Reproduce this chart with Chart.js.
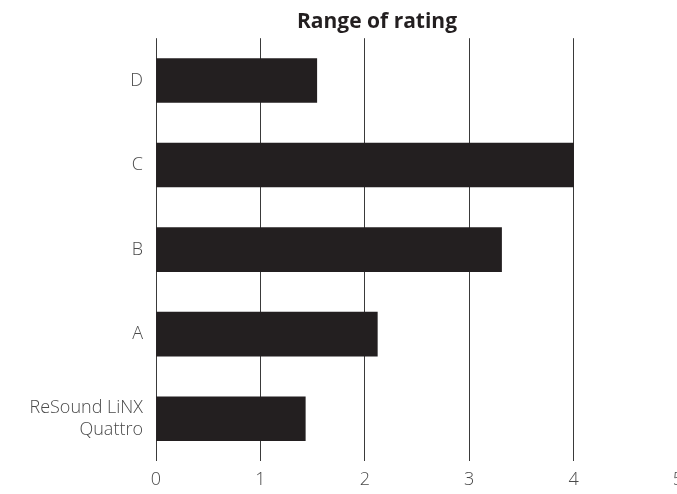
<!DOCTYPE html>
<html>
<head>
<meta charset="utf-8">
<script src="https://cdn.jsdelivr.net/npm/chart.js@4"></script>
<style>
  html, body { margin: 0; padding: 0; overflow: hidden; background: #fff; }
</style>
</head>
<body>
<canvas id="ratingChart" width="754" height="494"></canvas>
<script>
// data
const categories = ['D', 'C', 'B', 'A', ['ReSound LiNX', 'Quattro']];
const ratings = [1.54, 4.0, 3.31, 2.12, 1.43];
const xTicks = [0, 1, 2, 3, 4, 5];

const ratingData = {
  labels: categories,
  datasets: [{
    label: 'Range of rating',
    data: ratings,
    backgroundColor: '#231f20',
    barThickness: 44,
  }]
};

const labelFont = { family: 'Open Sans', size: 18, weight: '300', lineHeight: 1.25 };

// config chart
const ratingConfig = {
  type: 'bar',
  data: ratingData,
  options: {
    indexAxis: 'y',
    responsive: false,
    animation: false,
    plugins: {
      legend: { display: false },
      tooltip: { enabled: false },
      title: {
        display: true,
        text: 'Range of rating',
        color: '#231f20',
        font: { family: 'Open Sans', size: 21, weight: 'bold' },
        padding: { top: 9, bottom: 4 }
      }
    },
    scales: {
      x: {
        min: 0,
        max: 5,
        afterBuildTicks: (s) => { s.ticks = xTicks.map(v => ({ value: v })); },
        afterFit: (s) => { s.height = 33; },
        grid: { color: '#3a3a3a', lineWidth: 1, drawTicks: false },
        border: { display: false },
        ticks: { color: '#4a4a4a', padding: 8, font: labelFont }
      },
      y: {
        afterFit: (s) => { s.width = 156; },
        grid: { display: false, drawTicks: false },
        border: { display: false },
        ticks: { color: '#4a4a4a', padding: 13, font: labelFont }
      },
      // empty right-hand spacer so the plot ends at x = 5 near the window edge
      spacer: {
        type: 'linear',
        axis: 'y',
        position: 'right',
        afterFit: (s) => { s.width = 76; },
        grid: { display: false },
        border: { display: false },
        ticks: { display: false }
      }
    }
  }
};

window.addEventListener('DOMContentLoaded', () => {
  const ctx = document.getElementById('ratingChart').getContext('2d');
  new Chart(ctx, ratingConfig);
});
</script>
</body>
</html>
